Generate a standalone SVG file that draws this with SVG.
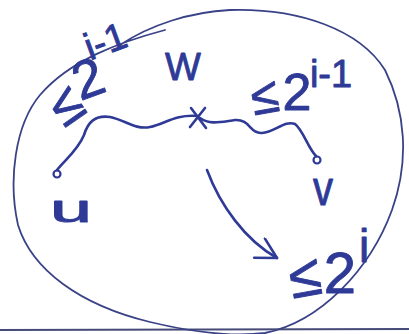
<svg xmlns="http://www.w3.org/2000/svg" width="409" height="334" viewBox="0 0 409 334">
<style>
.ink{fill:none;stroke:#3a4287;stroke-width:1.8;stroke-linecap:round;stroke-linejoin:round}
.pen{fill:none;stroke:#2e3a96;stroke-width:2.6;stroke-linecap:round;stroke-linejoin:round}
.t{font-family:"Liberation Sans","DejaVu Sans",sans-serif;fill:#2e3a96;stroke:#2e3a96;stroke-width:0.9;stroke-linejoin:round}
</style>
<defs>
<marker id="vhead" viewBox="0 0 24 24" refX="22" refY="12" markerWidth="24" markerHeight="24" markerUnits="userSpaceOnUse" orient="auto">
<path d="M2,1 L22,12 L2,23" fill="none" stroke="#2e3a96" stroke-width="2.6" stroke-linecap="round" stroke-linejoin="round"/>
</marker>
</defs>
<rect width="409" height="334" fill="#ffffff"/>
<line x1="0" y1="330" x2="409" y2="329" stroke="#454a78" stroke-width="2"/>
<path id="region" class="ink" d="M165,30 C120,42 70,60 40,95 C15,125 8,180 18,225 C32,270 80,305 150,322 C200,334 240,336 265,333 C320,322 370,270 392,210 C410,160 405,110 385,70 C360,30 300,8 230,10 C190,12 150,25 120,45"/>
<g id="connectors">
<path class="pen" d="M57,170 C65,160 78,150 84,135 C88,122 95,115 110,117 C125,120 135,130 150,127 C165,124 175,114 198,116"/>
<path class="pen" d="M200,118 C210,125 220,122 235,120 C250,119 250,134 262,133 C275,132 285,120 295,124 C303,130 308,148 316,156"/>
<path class="pen" d="M207,170 C220,205 245,240 277,258" marker-end="url(#vhead)"/>
</g>
<g id="node-u">
<circle cx="57" cy="174" r="3.5" fill="none" stroke="#2e3a96" stroke-width="2.2"/>
<text class="t" x="50" y="222" font-size="38" textLength="42" lengthAdjust="spacingAndGlyphs">u</text>
</g>
<g id="node-v">
<circle cx="317" cy="160" r="3.5" fill="none" stroke="#2e3a96" stroke-width="2.2"/>
<text class="t" x="313" y="205" font-size="48" textLength="20" lengthAdjust="spacingAndGlyphs">v</text>
</g>
<g id="node-w">
<path class="pen" stroke-width="3" d="M191,108 L206,128 M205,108 L190,127"/>
<text class="t" x="183" y="80" font-size="38" text-anchor="middle">W</text>
</g>
<g id="label-uw">
<text class="t" x="66" y="123" font-size="54" text-anchor="middle" transform="rotate(-35 66 105)">≤</text>
<text class="t" x="88" y="97" font-size="54" text-anchor="middle" transform="rotate(-20 88 78)">2</text>
<text class="t" x="105" y="54" font-size="38" text-anchor="middle" transform="rotate(-20 105 40)">i-1</text>
</g>
<g id="label-wv">
<text class="t" x="265" y="113" font-size="50" text-anchor="middle" transform="rotate(-10 265 98)">≤</text>
<text class="t" x="297" y="110" font-size="52" text-anchor="middle">2</text>
<text class="t" x="331" y="87" font-size="38" text-anchor="middle">i-1</text>
</g>
<g id="label-arrow">
<text class="t" x="305" y="296" font-size="58" text-anchor="middle" transform="rotate(-10 305 277)">≤</text>
<text class="t" x="340" y="293" font-size="58" text-anchor="middle">2</text>
<text class="t" x="364" y="262" font-size="46" text-anchor="middle">i</text>
</g>
</svg>
